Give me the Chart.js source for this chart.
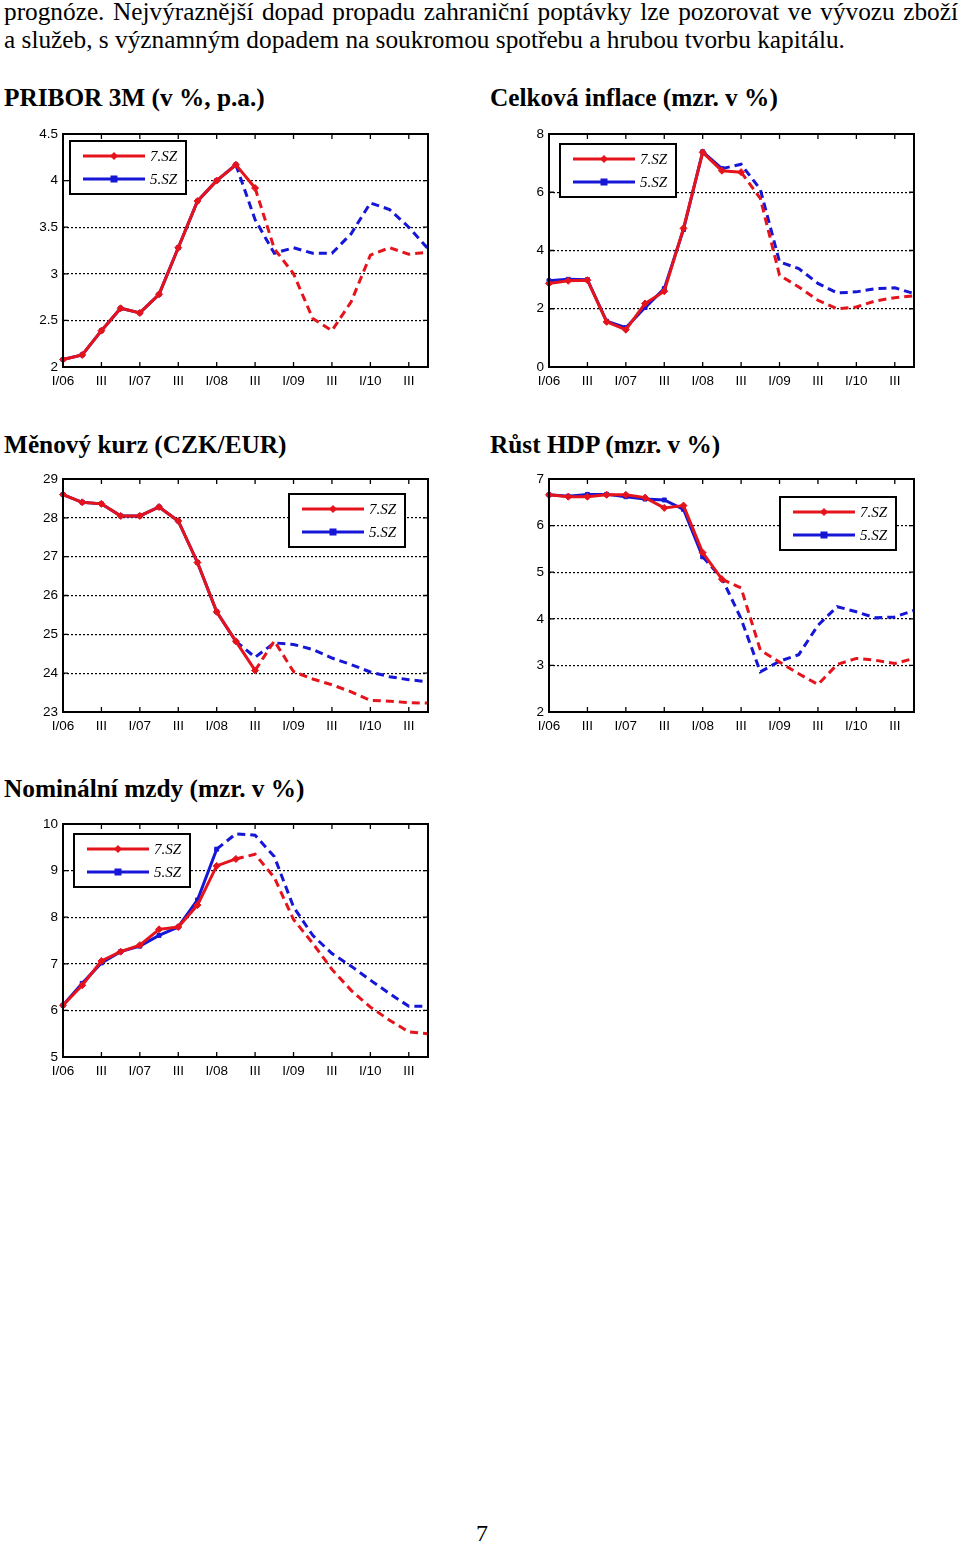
<!DOCTYPE html>
<html><head><meta charset="utf-8">
<script src="https://cdn.jsdelivr.net/npm/chart.js@4.4.1/dist/chart.umd.min.js"></script>
<style>
body{margin:0;background:#fff;width:960px;height:1543px;position:relative;overflow:hidden;font-family:"Liberation Serif","Times New Roman",serif;color:#000}
.t{position:absolute;font-size:25.3px;line-height:25px;white-space:nowrap}
.h{position:absolute;font-weight:bold;font-size:25.3px;line-height:25px;white-space:nowrap}
canvas{position:absolute}
</style></head><body>
<div class="t" style="left:4px;top:-1px;width:954px;white-space:normal;text-align:justify;text-align-last:justify">prognóze. Nejvýraznější dopad propadu zahraniční poptávky lze pozorovat ve vývozu zboží</div>
<div class="t" style="left:4px;top:27px">a služeb, s významným dopadem na soukromou spotřebu a hrubou tvorbu kapitálu.</div>

<div class="h" style="left:4px;top:85px">PRIBOR 3M (v %, p.a.)</div>
<div class="h" style="left:490px;top:85px">Celková inflace (mzr. v %)</div>
<div class="h" style="left:4px;top:432px">Měnový kurz (CZK/EUR)</div>
<div class="h" style="left:490px;top:432px">Růst HDP (mzr. v %)</div>
<div class="h" style="left:4px;top:776px">Nominální mzdy (mzr. v %)</div>

<canvas id="c1" width="440" height="275" style="left:0;top:120px"></canvas>
<canvas id="c2" width="440" height="275" style="left:490px;top:120px"></canvas>
<canvas id="c3" width="440" height="275" style="left:0;top:465px"></canvas>
<canvas id="c4" width="440" height="275" style="left:490px;top:465px"></canvas>
<canvas id="c5" width="440" height="275" style="left:0;top:810px"></canvas>

<div class="t" style="left:476px;top:1521px;font-size:24px;line-height:24px">7</div>

<script>
// ---- categories / tick labels ----
const quarters = ['I/06','II/06','III/06','IV/06','I/07','II/07','III/07','IV/07',
  'I/08','II/08','III/08','IV/08','I/09','II/09','III/09','IV/09','I/10','II/10','III/10','IV/10'];
const xTickLabels = ['I/06','III','I/07','III','I/08','III','I/09','III','I/10','III']; // every 2nd quarter
const seriesNames = ['7.SZ','5.SZ'];

// ---- PRIBOR 3M (v %, p.a.) ----
const pribor7 = [2.08,2.13,2.39,2.63,2.58,2.78,3.28,3.78,4.00,4.17,3.92,3.27,3.00,2.52,2.39,2.70,3.20,3.28,3.21,3.23];
const pribor5 = [2.08,2.13,2.39,2.63,2.58,2.78,3.28,3.78,4.00,4.17,3.58,3.22,3.28,3.22,3.22,3.43,3.76,3.69,3.50,3.27];
const priborHist = [11,10];
const priborYTicks = [2,2.5,3,3.5,4,4.5];

// ---- Celková inflace (mzr. v %) ----
const infl7 = [2.87,2.96,2.98,1.55,1.28,2.18,2.60,4.76,7.37,6.74,6.69,5.79,3.15,2.75,2.29,2.00,2.06,2.27,2.38,2.44];
const infl5 = [2.96,3.01,3.00,1.57,1.35,2.04,2.69,4.72,7.39,6.81,6.96,6.10,3.61,3.38,2.87,2.54,2.58,2.69,2.72,2.52];
const inflHist = [11,10];
const inflYTicks = [0,2,4,6,8];

// ---- Měnový kurz (CZK/EUR) ----
const czk7 = [28.60,28.40,28.36,28.05,28.05,28.28,27.92,26.85,25.58,24.82,24.07,24.83,24.04,23.85,23.70,23.52,23.30,23.28,23.24,23.23];
const czk5 = [28.60,28.40,28.36,28.05,28.05,28.28,27.92,26.85,25.58,24.82,24.41,24.78,24.74,24.61,24.39,24.22,24.03,23.91,23.83,23.78];
const czkHist = [11,10];
const czkYTicks = [23,24,25,26,27,28,29];

// ---- Růst HDP (mzr. v %) ----
const hdp7 = [6.66,6.62,6.62,6.66,6.66,6.60,6.38,6.43,5.42,4.85,4.66,3.33,3.07,2.82,2.59,3.02,3.15,3.11,3.04,3.15];
const hdp5 = [6.66,6.63,6.67,6.67,6.62,6.57,6.55,6.35,5.33,4.87,4.00,2.86,3.09,3.23,3.86,4.26,4.15,4.02,4.04,4.18];
const hdpHist = [10,9];
const hdpYTicks = [2,3,4,5,6,7];

// ---- Nominální mzdy (mzr. v %) ----
const mzdy7 = [6.11,6.54,7.06,7.26,7.40,7.74,7.79,8.26,9.10,9.25,9.35,8.85,7.95,7.44,6.88,6.43,6.07,5.79,5.54,5.50];
const mzdy5 = [6.11,6.58,7.02,7.26,7.38,7.61,7.79,8.37,9.46,9.79,9.76,9.30,8.22,7.61,7.22,6.95,6.65,6.36,6.09,6.09];
const mzdyHist = [10,9];
const mzdyYTicks = [5,6,7,8,9,10];

// ---- styles ----
const RED = '#e5141c';
const BLUE = '#1616d6';
const TICK_FONT = {family:'"Liberation Sans", Arial, sans-serif', size:13.5};

function dataset(label, values, color, marker, nSolid){
  return {
    label, data: values, borderColor: color, backgroundColor: color,
    borderWidth: 3, tension: 0, fill: false,
    pointStyle: marker,
    pointRadius: ctx => ctx.dataIndex < nSolid ? (marker === 'rect' ? 2.8 : 3.5) : 0,
    pointBorderWidth: 1,
    segment: { borderDash: ctx => ctx.p0DataIndex >= nSolid - 1 ? [8,5] : undefined }
  };
}

const framePlugin = {
  id: 'frame',
  afterDraw(chart){
    const a = chart.chartArea, ctx = chart.ctx, xs = chart.scales.x, ys = chart.scales.y;
    ctx.save();
    ctx.strokeStyle = '#000';
    ctx.lineWidth = 1.3;
    ctx.beginPath();
    for (let i = 0; i < quarters.length; i += 2) {
      const px = xs.getPixelForValue(i);
      ctx.moveTo(px, a.bottom); ctx.lineTo(px, a.bottom - 5);
      ctx.moveTo(px, a.top); ctx.lineTo(px, a.top + 5);
    }
    ys.ticks.forEach(t => {
      const py = ys.getPixelForValue(t.value);
      ctx.moveTo(a.left, py); ctx.lineTo(a.left + 5, py);
      ctx.moveTo(a.right, py); ctx.lineTo(a.right - 5, py);
    });
    ctx.stroke();
    ctx.lineWidth = 2;
    ctx.strokeRect(a.left, a.top, a.right - a.left, a.bottom - a.top);
    ctx.restore();
  }
};

const legendPlugin = {
  id: 'boxLegend',
  afterDraw(chart, args, opts){
    const a = chart.chartArea, ctx = chart.ctx;
    const x = a.left + opts.dx, y = a.top + opts.dy, w = 116, h = 53;
    ctx.save();
    ctx.fillStyle = '#fff'; ctx.fillRect(x, y, w, h);
    ctx.strokeStyle = '#000'; ctx.lineWidth = 2; ctx.strokeRect(x, y, w, h);
    chart.data.datasets.forEach((d, i) => {
      const ly = y + 15 + i * 23;
      ctx.setLineDash([]);
      ctx.strokeStyle = d.borderColor; ctx.lineWidth = 3;
      ctx.beginPath(); ctx.moveTo(x + 13, ly); ctx.lineTo(x + 75, ly); ctx.stroke();
      ctx.fillStyle = d.borderColor;
      const mx = x + 44;
      if (d.pointStyle === 'rect') {
        ctx.fillRect(mx - 3.5, ly - 3.5, 7, 7);
      } else {
        ctx.beginPath(); ctx.moveTo(mx, ly - 4); ctx.lineTo(mx + 4, ly); ctx.lineTo(mx, ly + 4); ctx.lineTo(mx - 4, ly); ctx.closePath(); ctx.fill();
      }
      ctx.fillStyle = '#000';
      ctx.font = 'italic 15px "Liberation Serif", "Times New Roman", serif';
      ctx.textBaseline = 'middle'; ctx.textAlign = 'left';
      ctx.fillText(d.label, x + 80, ly + 1);
    });
    ctx.restore();
  }
};

function makeChart(id, s7, s5, hist, yTicks, yAxisWidth, rightPad, legendOffset){
  const ymin = yTicks[0], ymax = yTicks[yTicks.length - 1];
  return new Chart(document.getElementById(id), {
    type: 'line',
    data: { labels: quarters, datasets: [
      dataset(seriesNames[0], s7, RED, 'rectRot', hist[0]),
      dataset(seriesNames[1], s5, BLUE, 'rect', hist[1])
    ]},
    options: {
      responsive: false, animation: false, devicePixelRatio: 1,
      layout: { padding: { top: 14, right: rightPad, left: 0, bottom: 0 } },
      plugins: { legend: { display: false }, tooltip: { enabled: false }, boxLegend: legendOffset },
      scales: {
        x: {
          type: 'category', offset: false,
          grid: { display: false, drawTicks: false }, border: { display: false },
          ticks: { autoSkip: false, maxRotation: 0, minRotation: 0, padding: 6, color: '#000', font: TICK_FONT,
            callback: (v, i) => i % 2 === 0 ? xTickLabels[i / 2] : '' },
          afterFit: s => { s.height = 28; }
        },
        y: {
          min: ymin, max: ymax,
          afterBuildTicks: s => { s.ticks = yTicks.map(v => ({ value: v })); },
          grid: { drawTicks: false, lineWidth: 1.2,
            color: c => (c.tick && c.tick.value > ymin && c.tick.value < ymax) ? '#000' : 'rgba(0,0,0,0)' },
          border: { display: false, dash: [2, 2] },
          ticks: { padding: 5, color: '#000', font: TICK_FONT, callback: v => String(v) },
          afterFit: s => { s.width = yAxisWidth; }
        }
      }
    },
    plugins: [framePlugin, legendPlugin]
  });
}

makeChart('c1', pribor7, pribor5, priborHist, priborYTicks, 63, 12, {dx: 7, dy: 7});
makeChart('c2', infl7, infl5, inflHist, inflYTicks, 59, 16, {dx: 11, dy: 10});
makeChart('c3', czk7, czk5, czkHist, czkYTicks, 63, 12, {dx: 226, dy: 15});
makeChart('c4', hdp7, hdp5, hdpHist, hdpYTicks, 59, 16, {dx: 231, dy: 18});
makeChart('c5', mzdy7, mzdy5, mzdyHist, mzdyYTicks, 63, 12, {dx: 11, dy: 10});
</script>
</body></html>
